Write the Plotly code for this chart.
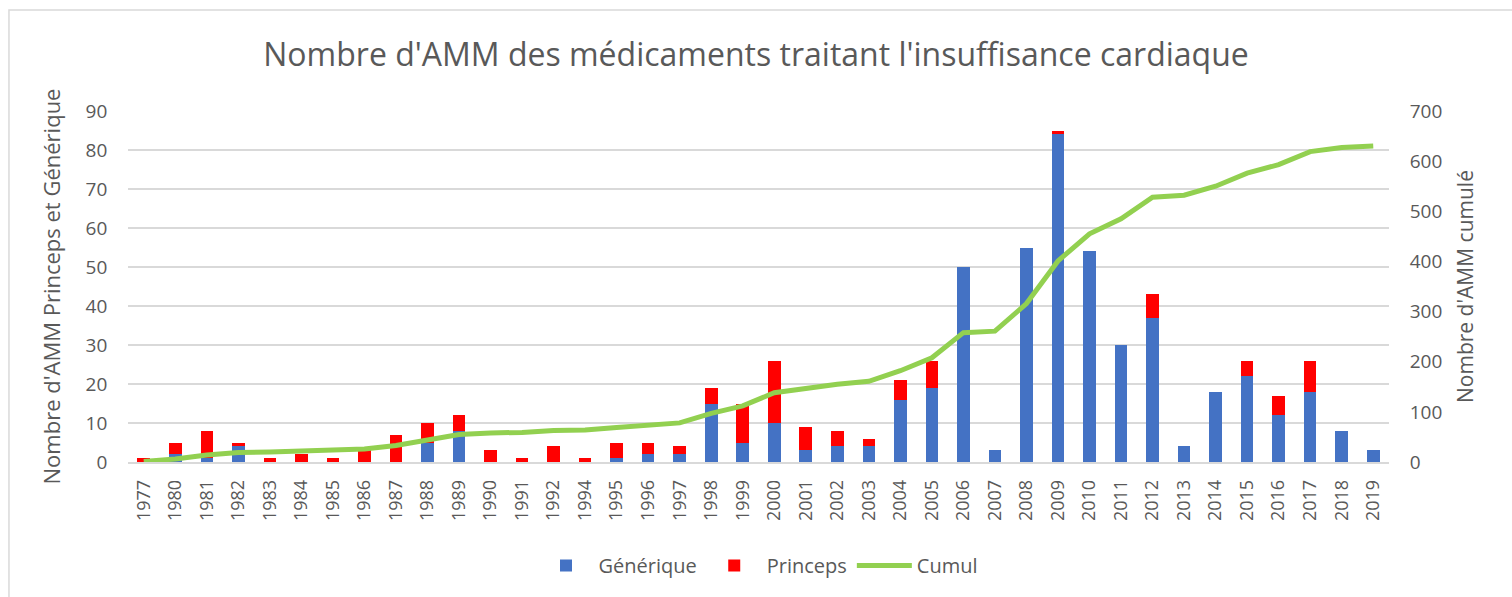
import plotly.graph_objects as go

years = ["1977", "1980", "1981", "1982", "1983", "1984", "1985", "1986", "1987", "1988",
         "1989", "1990", "1991", "1992", "1994", "1995", "1996", "1997", "1998", "1999",
         "2000", "2001", "2002", "2003", "2004", "2005", "2006", "2007", "2008", "2009",
         "2010", "2011", "2012", "2013", "2014", "2015", "2016", "2017", "2018", "2019"]
generique = [0, 2, 1, 4, 0, 0, 0, 0, 0, 5,
             8, 0, 0, 0, 0, 1, 2, 2, 15, 5,
             10, 3, 4, 4, 16, 19, 50, 3, 55, 84,
             54, 30, 37, 4, 18, 22, 12, 18, 8, 3]
princeps = [1, 3, 7, 1, 1, 2, 1, 3, 7, 5,
            4, 3, 1, 4, 1, 4, 3, 2, 4, 10,
            16, 6, 4, 2, 5, 7, 0, 0, 0, 1,
            0, 0, 6, 0, 0, 4, 5, 8, 0, 0]
cumul = [1, 6, 14, 19, 20, 22, 23, 26, 33, 43,
         55, 58, 59, 63, 64, 69, 74, 78, 97, 112,
         138, 147, 155, 161, 182, 208, 258, 261, 316, 401,
         455, 485, 528, 532, 550, 576, 593, 619, 627, 630]

FONT = "Open Sans"
TXT = "#595959"
GRID = "#D9D9D9"

fig = go.Figure()
fig.add_trace(go.Bar(x=years, y=generique, name="Générique",
                     marker=dict(color="#4472C4", line=dict(width=0))))
fig.add_trace(go.Bar(x=years, y=princeps, name="Princeps",
                     marker=dict(color="#FF0000", line=dict(width=0))))
fig.add_trace(go.Scatter(x=years, y=cumul, name="Cumul", yaxis="y2", mode="lines",
                         line=dict(color="#92D050", width=5)))

fig.update_layout(
    width=1512, height=597,
    paper_bgcolor="white", plot_bgcolor="white",
    barmode="stack", bargap=0.6,
    font=dict(family=FONT, color=TXT, size=19),
    title=dict(text="Nombre d'AMM des médicaments traitant l'insuffisance cardiaque",
               x=0.5, xanchor="center", y=0.908, yanchor="middle",
               font=dict(size=32, color=TXT, family=FONT)),
    margin=dict(l=128, r=123, t=111, b=135),
    xaxis=dict(type="category", tickangle=-90, tickfont=dict(size=18, color=TXT),
               showgrid=False, showline=True, linecolor=GRID, linewidth=1.5,
               ticks="outside", ticklen=9, tickcolor="rgba(0,0,0,0)"),
    yaxis=dict(range=[0, 90], dtick=10, showgrid=True, gridcolor=GRID, gridwidth=1.5,
               zeroline=False, tickfont=dict(size=19, color=TXT),
               title=dict(text="Nombre d'AMM Princeps et Générique",
                          font=dict(size=22, color=TXT), standoff=18),
               ticksuffix="    "),
    yaxis2=dict(range=[0, 700], dtick=100, overlaying="y", side="right",
                showgrid=False, zeroline=False, tickfont=dict(size=19, color=TXT),
                title=dict(text="Nombre d'AMM cumulé",
                           font=dict(size=21, color=TXT), standoff=16),
                tickprefix="    "),
    legend=dict(orientation="h", x=0.5, xanchor="center", y=-0.295, yanchor="middle",
                font=dict(size=20, color=TXT), traceorder="normal",
                itemwidth=55),
    showlegend=True,
    shapes=[dict(type="rect", xref="paper", yref="paper",
                 x0=-0.0944, x1=1.2, y0=-0.5, y1=1.288,
                 line=dict(color="#D9D9D9", width=1.5), fillcolor="rgba(0,0,0,0)",
                 layer="below")],
)

fig.write_html("out.html", config={"displayModeBar": False},
               post_script="document.body.style.margin='0';document.body.style.padding='0';")
